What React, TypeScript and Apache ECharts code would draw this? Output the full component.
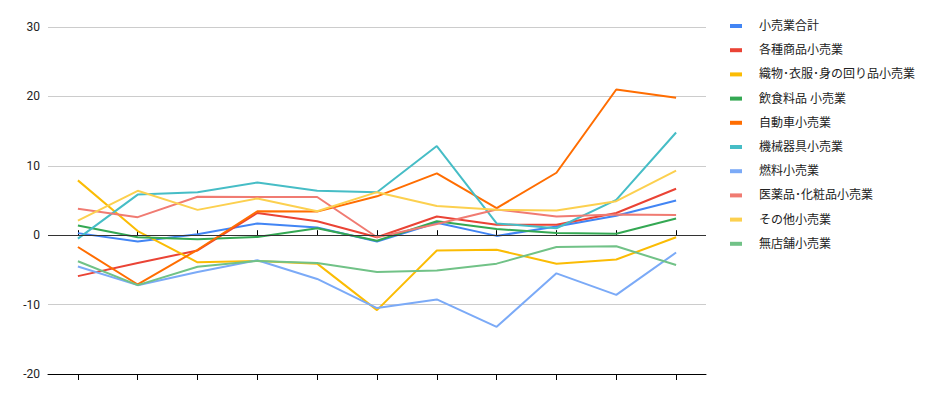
import React, { useEffect, useRef } from "react";
import * as echarts from "echarts";

const categories = ["1", "2", "3", "4", "5", "6", "7", "8", "9", "10", "11"];
const yTicks = [-20, -10, 0, 10, 20, 30];

const seriesNames = [
  "小売業合計",
  "各種商品小売業",
  "織物･衣服･身の回り品小売業",
  "飲食料品 小売業",
  "自動車小売業",
  "機械器具小売業",
  "燃料小売業",
  "医薬品･化粧品小売業",
  "その他小売業",
  "無店舗小売業",
];

const seriesColors = [
  "#4285F4",
  "#EA4335",
  "#FBBC04",
  "#34A853",
  "#FF6D01",
  "#46BDC6",
  "#7BAAF7",
  "#F07B72",
  "#FCD04F",
  "#71C287",
];

const retailTotal = [0.3, -0.9, 0.15, 1.7, 1.1, -0.9, 1.8, -0.1, 1.25, 2.8, 5.0];
const generalMerch = [-5.9, -4.0, -2.2, 3.2, 2.0, -0.3, 2.7, 1.5, 1.5, 3.2, 6.7];
const apparel = [7.9, 0.6, -3.9, -3.7, -4.1, -10.8, -2.2, -2.1, -4.1, -3.5, -0.3];
const foodBev = [1.4, -0.3, -0.6, -0.25, 1.0, -0.8, 2.0, 0.9, 0.3, 0.2, 2.4];
const motorVeh = [-1.7, -7.1, -2.1, 3.45, 3.4, 5.6, 8.9, 3.9, 9.0, 21.0, 19.8];
const machinery = [-0.5, 5.85, 6.2, 7.6, 6.4, 6.2, 12.85, 1.7, 1.0, 5.1, 14.8];
const fuel = [-4.5, -7.2, -5.3, -3.6, -6.3, -10.5, -9.25, -13.2, -5.5, -8.6, -2.5];
const pharma = [3.8, 2.6, 5.55, 5.5, 5.5, -0.3, 1.6, 3.7, 2.7, 3.0, 2.9];
const otherRetail = [2.1, 6.4, 3.65, 5.3, 3.45, 6.2, 4.2, 3.65, 3.55, 4.9, 9.3];
const nonStore = [-3.75, -7.2, -4.55, -3.7, -4.0, -5.3, -5.1, -4.1, -1.7, -1.6, -4.3];

const seriesData = [
  retailTotal,
  generalMerch,
  apparel,
  foodBev,
  motorVeh,
  machinery,
  fuel,
  pharma,
  otherRetail,
  nonStore,
];

export default function App() {
  const ref = useRef<HTMLDivElement>(null);
  useEffect(() => {
    if (!ref.current) return;
    const chart = echarts.init(ref.current, undefined, { renderer: "svg" });
    const font = "Roboto, 'Noto Sans CJK JP', sans-serif";
    chart.setOption({
      animation: false,
      textStyle: { fontFamily: font },
      grid: { left: 48, right: 225, top: 27, bottom: 28, containLabel: false },
      legend: {
        orient: "vertical",
        left: 725,
        top: 15,
        itemWidth: 12,
        itemHeight: 4,
        itemGap: 12.2,
        icon: "rect",
        data: seriesNames,
        textStyle: {
          fontSize: 12,
          color: "#222222",
          fontFamily: font,
          padding: [0, 0, 0, 12],
        },
      },
      xAxis: [
        {
          type: "category",
          data: categories,
          boundaryGap: true,
          axisLine: { show: true, onZero: false, lineStyle: { color: "#000000", width: 1 } },
          axisTick: { show: true, alignWithLabel: true, length: 6, lineStyle: { color: "#000000" } },
          axisLabel: { show: false },
          splitLine: { show: false },
        },
        {
          type: "category",
          data: categories,
          position: "bottom",
          offset: 0,
          boundaryGap: true,
          axisLine: { show: false },
          axisTick: { show: true, inside: true, alignWithLabel: true, length: 5, lineStyle: { color: "#000000" } },
          axisLabel: { show: false },
          splitLine: { show: false },
        },
      ],
      yAxis: {
        type: "value",
        min: yTicks[0],
        max: yTicks[yTicks.length - 1],
        interval: 10,
        axisLine: { show: false },
        axisTick: { show: false },
        axisLabel: { color: "#222222", fontSize: 12, margin: 8, fontFamily: font },
        splitLine: { lineStyle: { color: "#cccccc", width: 1 } },
      },
      series: [
        ...seriesNames.map((name, i) => ({
          name,
          type: "line",
          data: seriesData[i],
          xAxisIndex: 0,
          showSymbol: false,
          symbol: "none",
          color: seriesColors[i],
          lineStyle: { width: 2, color: seriesColors[i] },
          z: 3,
        })),
        {
          name: "__zero",
          type: "line",
          data: [],
          xAxisIndex: 0,
          markLine: {
            silent: true,
            symbol: "none",
            label: { show: false },
            lineStyle: { color: "#333333", width: 1, type: "solid" },
            data: [{ yAxis: 0 }],
          },
          z: 2,
        },
      ],
    });
    return () => chart.dispose();
  }, []);
  return (
    <div
      ref={ref}
      style={{ position: "fixed", left: 0, top: 0, width: 931, height: 402, background: "#ffffff" }}
    />
  );
}
